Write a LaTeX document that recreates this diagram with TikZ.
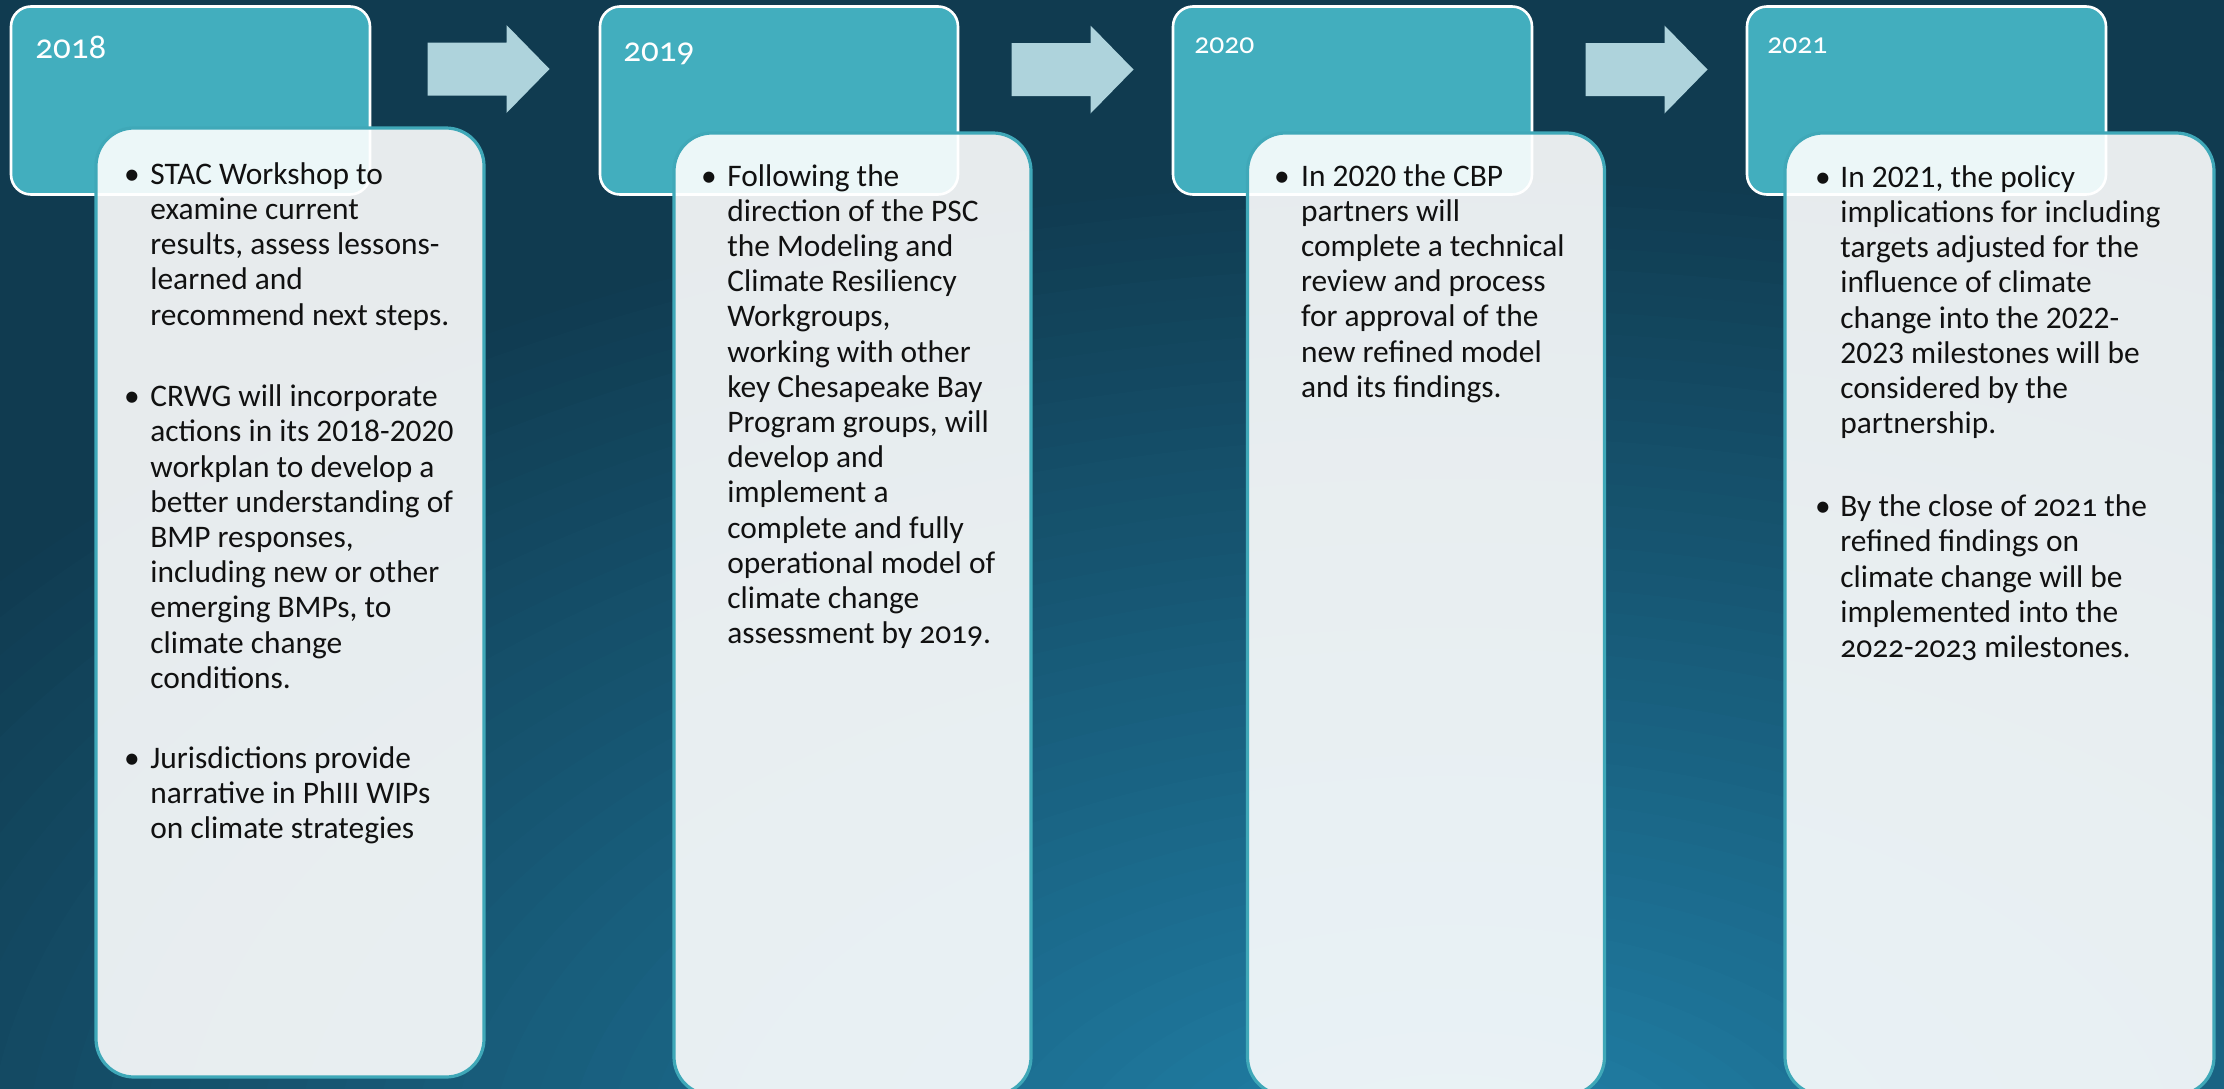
\documentclass[tikz,border=0pt]{standalone}
\usepackage{fontspec}
\setmainfont{Carlito}
\newfontfamily\oldnum{Carlito}[Numbers=OldStyle]

\definecolor{glowA}{HTML}{2183AB}
\definecolor{glowD}{HTML}{103B50}
\definecolor{yearfill}{HTML}{42AEBE}
\definecolor{cardedge}{HTML}{3FA8B8}
\definecolor{arrowfill}{HTML}{AED3DC}
\definecolor{inkcol}{HTML}{111111}

\tikzset{
  yearcard/.style={draw=white, line width=1.3pt, fill=yearfill,
    rounded corners=10pt, inner sep=0pt, outer sep=0pt, anchor=north west},
  card/.style={draw=cardedge, line width=1.6pt, fill=white, fill opacity=0.9,
    rounded corners=19pt, inner sep=0pt, outer sep=0pt, anchor=north west},
  yearlabel/.style={text=white, inner sep=0pt, anchor=base west},
  bodytext/.style={text=inkcol, inner sep=0pt,
    font=\fontsize{15.7pt}{17.6pt}\selectfont},
  stepchevron/.pic={
    \fill[arrowfill] (0,17.5) -- (79,17.5) -- (79,0) -- (122,44)
      -- (79,88) -- (79,70.5) -- (0,70.5) -- cycle;}
}

% old-style figures inside body text
\newcommand\osf[1]{{\oldnum #1}}

% bullet mark and its text block; #1 name, #2 bullet x, #3 text x, #4 baseline, #5 lines
\newcommand\cardpoint[5]{%
  \node[bodytext, anchor=base] (#1dot) at (#2,#4) {\textbullet};
  \node[bodytext, anchor=base west] (#1) at (#3,#4)
    {\parbox[t]{230pt}{\raggedright #5}};
}

\begin{document}
\begin{tikzpicture}[x=0.5pt, y=-0.5pt]
  \useasboundingbox (0,0) rectangle (2224,1088);

  % background: deep teal brightening towards the lower middle
  \begin{scope}
    \clip (0,0) rectangle (2224,1088);
    \fill[glowD] (0,0) rectangle (2224,1088);
    \foreach \i in {0,...,47}{
      \pgfmathsetmacro\s{1-\i/48}
      \pgfmathsetmacro\w{100*(1-\s)}
      \fill[glowA!\w!glowD] (1450,1180) ellipse [x radius=1850*\s, y radius=1020*\s];
    }
  \end{scope}

  % year headers
  \node[yearcard, minimum width=179.5pt, minimum height=94pt] (yr1) at (11,6.5) {};
  \node[yearcard, minimum width=179pt, minimum height=94pt] (yr2) at (600,6.5) {};
  \node[yearcard, minimum width=179.5pt, minimum height=94pt] (yr3) at (1173,6.5) {};
  \node[yearcard, minimum width=179.5pt, minimum height=94pt] (yr4) at (1747,6.5) {};

  \node[yearlabel, font=\oldnum\fontsize{17.5pt}{20pt}\selectfont] (lab1) at (35,58) {2018};
  \node[yearlabel, font=\oldnum\fontsize{17.5pt}{20pt}\selectfont] (lab2) at (623,61) {2019};
  \node[yearlabel, font=\oldnum\fontsize{14.8pt}{18pt}\selectfont] (lab3) at (1194,53) {2020};
  \node[yearlabel, font=\oldnum\fontsize{14.8pt}{18pt}\selectfont] (lab4) at (1767,53) {2021};

  % arrows between years
  \pic at (427.5,25) {stepchevron};
  \pic at (1011.5,25.5) {stepchevron};
  \pic at (1585.5,25.5) {stepchevron};

  % detail cards
  \node[card, minimum width=194pt, minimum height=474.5pt] (card1) at (96,128) {};
  \node[card, minimum width=178.5pt, minimum height=481pt] (card2) at (674,133) {};
  \node[card, minimum width=178.5pt, minimum height=481pt] (card3) at (1247.5,133) {};
  \node[card, minimum width=214.5pt, minimum height=481pt] (card4) at (1785,133) {};

  % card texts
  \cardpoint{a1}{132}{150}{184.3}{STAC Workshop to\\examine current\\results, assess lessons-\\learned and\\recommend next steps.}
  \cardpoint{a2}{132}{150}{406.7}{CRWG will incorporate\\actions in its 2018-2020\\workplan to develop a\\better understanding of\\BMP responses,\\including new or other\\emerging BMPs, to\\climate change\\conditions.}
  \cardpoint{a3}{132}{150}{768.4}{Jurisdictions provide\\narrative in PhIII WIPs\\on climate strategies}

  \cardpoint{b1}{709}{727}{186}{Following the\\direction of the PSC\\the Modeling and\\Climate Resiliency\\Workgroups,\\working with other\\key Chesapeake Bay\\Program groups, will\\develop and\\implement a\\complete and fully\\operational model of\\climate change\\assessment by \osf{2019}.}

  \cardpoint{c1}{1282}{1300.7}{186}{In 2020 the CBP\\partners will\\complete a technical\\review and process\\for approval of the\\new refined model\\and its findings.}

  \cardpoint{d1}{1823}{1840}{187.3}{In 2021, the policy\\implications for including\\targets adjusted for the\\influence of climate\\change into the 2022-\\2023 milestones will be\\considered by the\\partnership.}
  \cardpoint{d2}{1823}{1840}{516.7}{By the close of \osf{2021} the\\refined findings on\\climate change will be\\implemented into the\\\osf{2022-2023} milestones.}
\end{tikzpicture}
\end{document}
